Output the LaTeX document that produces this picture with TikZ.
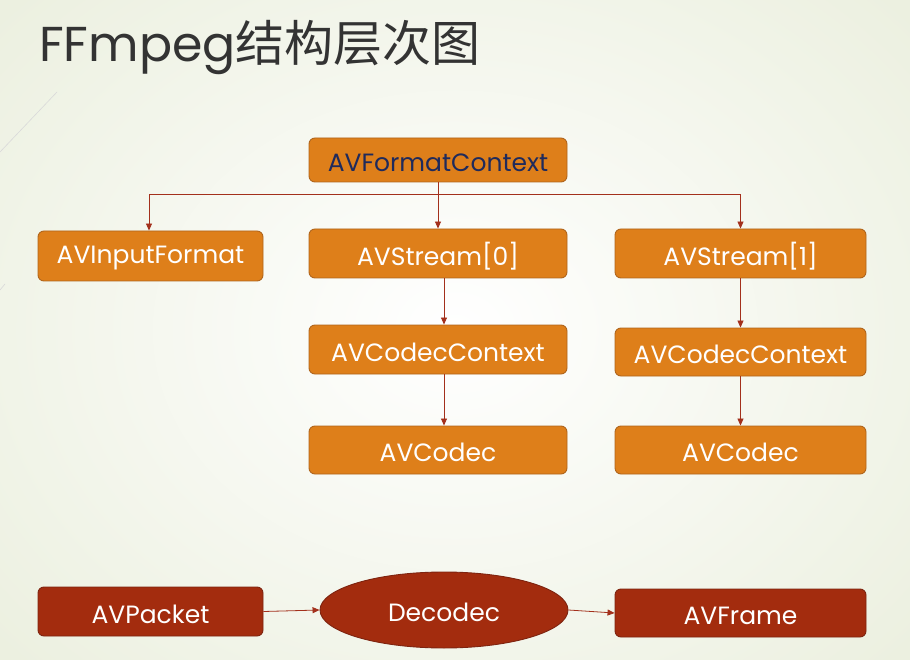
\documentclass[tikz,border=0pt]{standalone}
\usepackage{fontspec}
\setmainfont{Poppins}
\newfontfamily\cjk{Noto Sans CJK SC}
\usetikzlibrary{shapes.geometric,arrows.meta}
\definecolor{bgc}{HTML}{ECF0E0}
\definecolor{boxfill}{HTML}{DE7F1A}
\definecolor{boxline}{HTML}{B0651C}
\definecolor{darkfill}{HTML}{A32C0E}
\definecolor{darkline}{HTML}{7E2410}
\definecolor{arrc}{HTML}{A3301C}
\definecolor{navy}{HTML}{1F2A5C}
\definecolor{titlec}{HTML}{333333}
\newcommand{\lowtxt}[1]{\raisebox{-2.5pt}[\height][\depth]{#1}}
\tikzset{
  obox/.style={draw=boxline, line width=0.9pt, fill=boxfill, rounded corners=6pt,
    text=white, font=\fontsize{25}{28}\selectfont, inner sep=0pt, anchor=center},
  dbox/.style={draw=darkline, line width=0.9pt, fill=darkfill, rounded corners=6pt,
    text=white, font=\fontsize{25}{28}\selectfont, inner sep=0pt, anchor=center},
  conn/.style={draw=arrc, line width=0.8pt, -{Triangle[length=7pt,width=6pt]}},
}
\begin{document}
\begin{tikzpicture}[x=1pt,y=-1pt]
\useasboundingbox (0,0) rectangle (910,660);
\shade[inner color=white, outer color=bgc] (-150,-150) rectangle (1060,810);
\draw[color=black!15, line width=0.6pt] (57,92) -- (0,152);
\draw[color=black!15, line width=0.6pt] (0,290) -- (5,284);
\node[anchor=base west, text=titlec, font=\fontsize{49}{52}\selectfont, inner sep=0pt] (title) at (39,62) {FFmpeg{\cjk\fontsize{49}{52}\selectfont 结构层次图}};

\node[obox, minimum width=258pt, minimum height=44pt, text=navy] (fc) at (438,160) {\lowtxt{AVFormatContext}};
\node[obox, minimum width=225pt, minimum height=50pt] (inp) at (150.5,256) {\lowtxt{AVInputFormat}};
\node[obox, minimum width=258pt, minimum height=49pt] (s0) at (438,253.5) {\lowtxt{AVStream[0]}};
\node[obox, minimum width=251pt, minimum height=49pt] (s1) at (740.5,253.5) {\lowtxt{AVStream[1]}};
\node[obox, minimum width=258pt, minimum height=49pt] (cc0) at (438,349.5) {\lowtxt{AVCodecContext}};
\node[obox, minimum width=251pt, minimum height=48pt] (cc1) at (740.5,352) {\lowtxt{AVCodecContext}};
\node[obox, minimum width=258pt, minimum height=48pt] (c0) at (438,450) {\lowtxt{AVCodec}};
\node[obox, minimum width=251pt, minimum height=48pt] (c1) at (740.5,450) {\lowtxt{AVCodec}};

\node[dbox, minimum width=225pt, minimum height=49pt] (pk) at (150.5,611.5) {\lowtxt{AVPacket}};
\node[dbox, ellipse, rounded corners=0pt, minimum width=248pt, minimum height=76pt] (dec) at (444,610) {\lowtxt{Decodec}};
\node[dbox, minimum width=251pt, minimum height=48pt] (fr) at (740.5,613) {\lowtxt{AVFrame}};

\draw[conn] (fc.south) -- ++(0,12) -| ([xshift=-1.5pt]inp.north);
\draw[conn] (fc.south) -- (s0.north);
\draw[conn] (fc.south) -- ++(0,12) -| (s1.north);
\draw[conn] ([xshift=6pt]s0.south) -- ([xshift=6pt]cc0.north);
\draw[conn] ([xshift=6pt]cc0.south) -- ([xshift=6pt]c0.north);
\draw[conn] (s1.south) -- (cc1.north);
\draw[conn] (cc1.south) -- (c1.north);
\draw[conn] (pk.east) -- (dec.west);
\draw[conn] (dec.east) -- (fr.west);
\end{tikzpicture}
\end{document}
